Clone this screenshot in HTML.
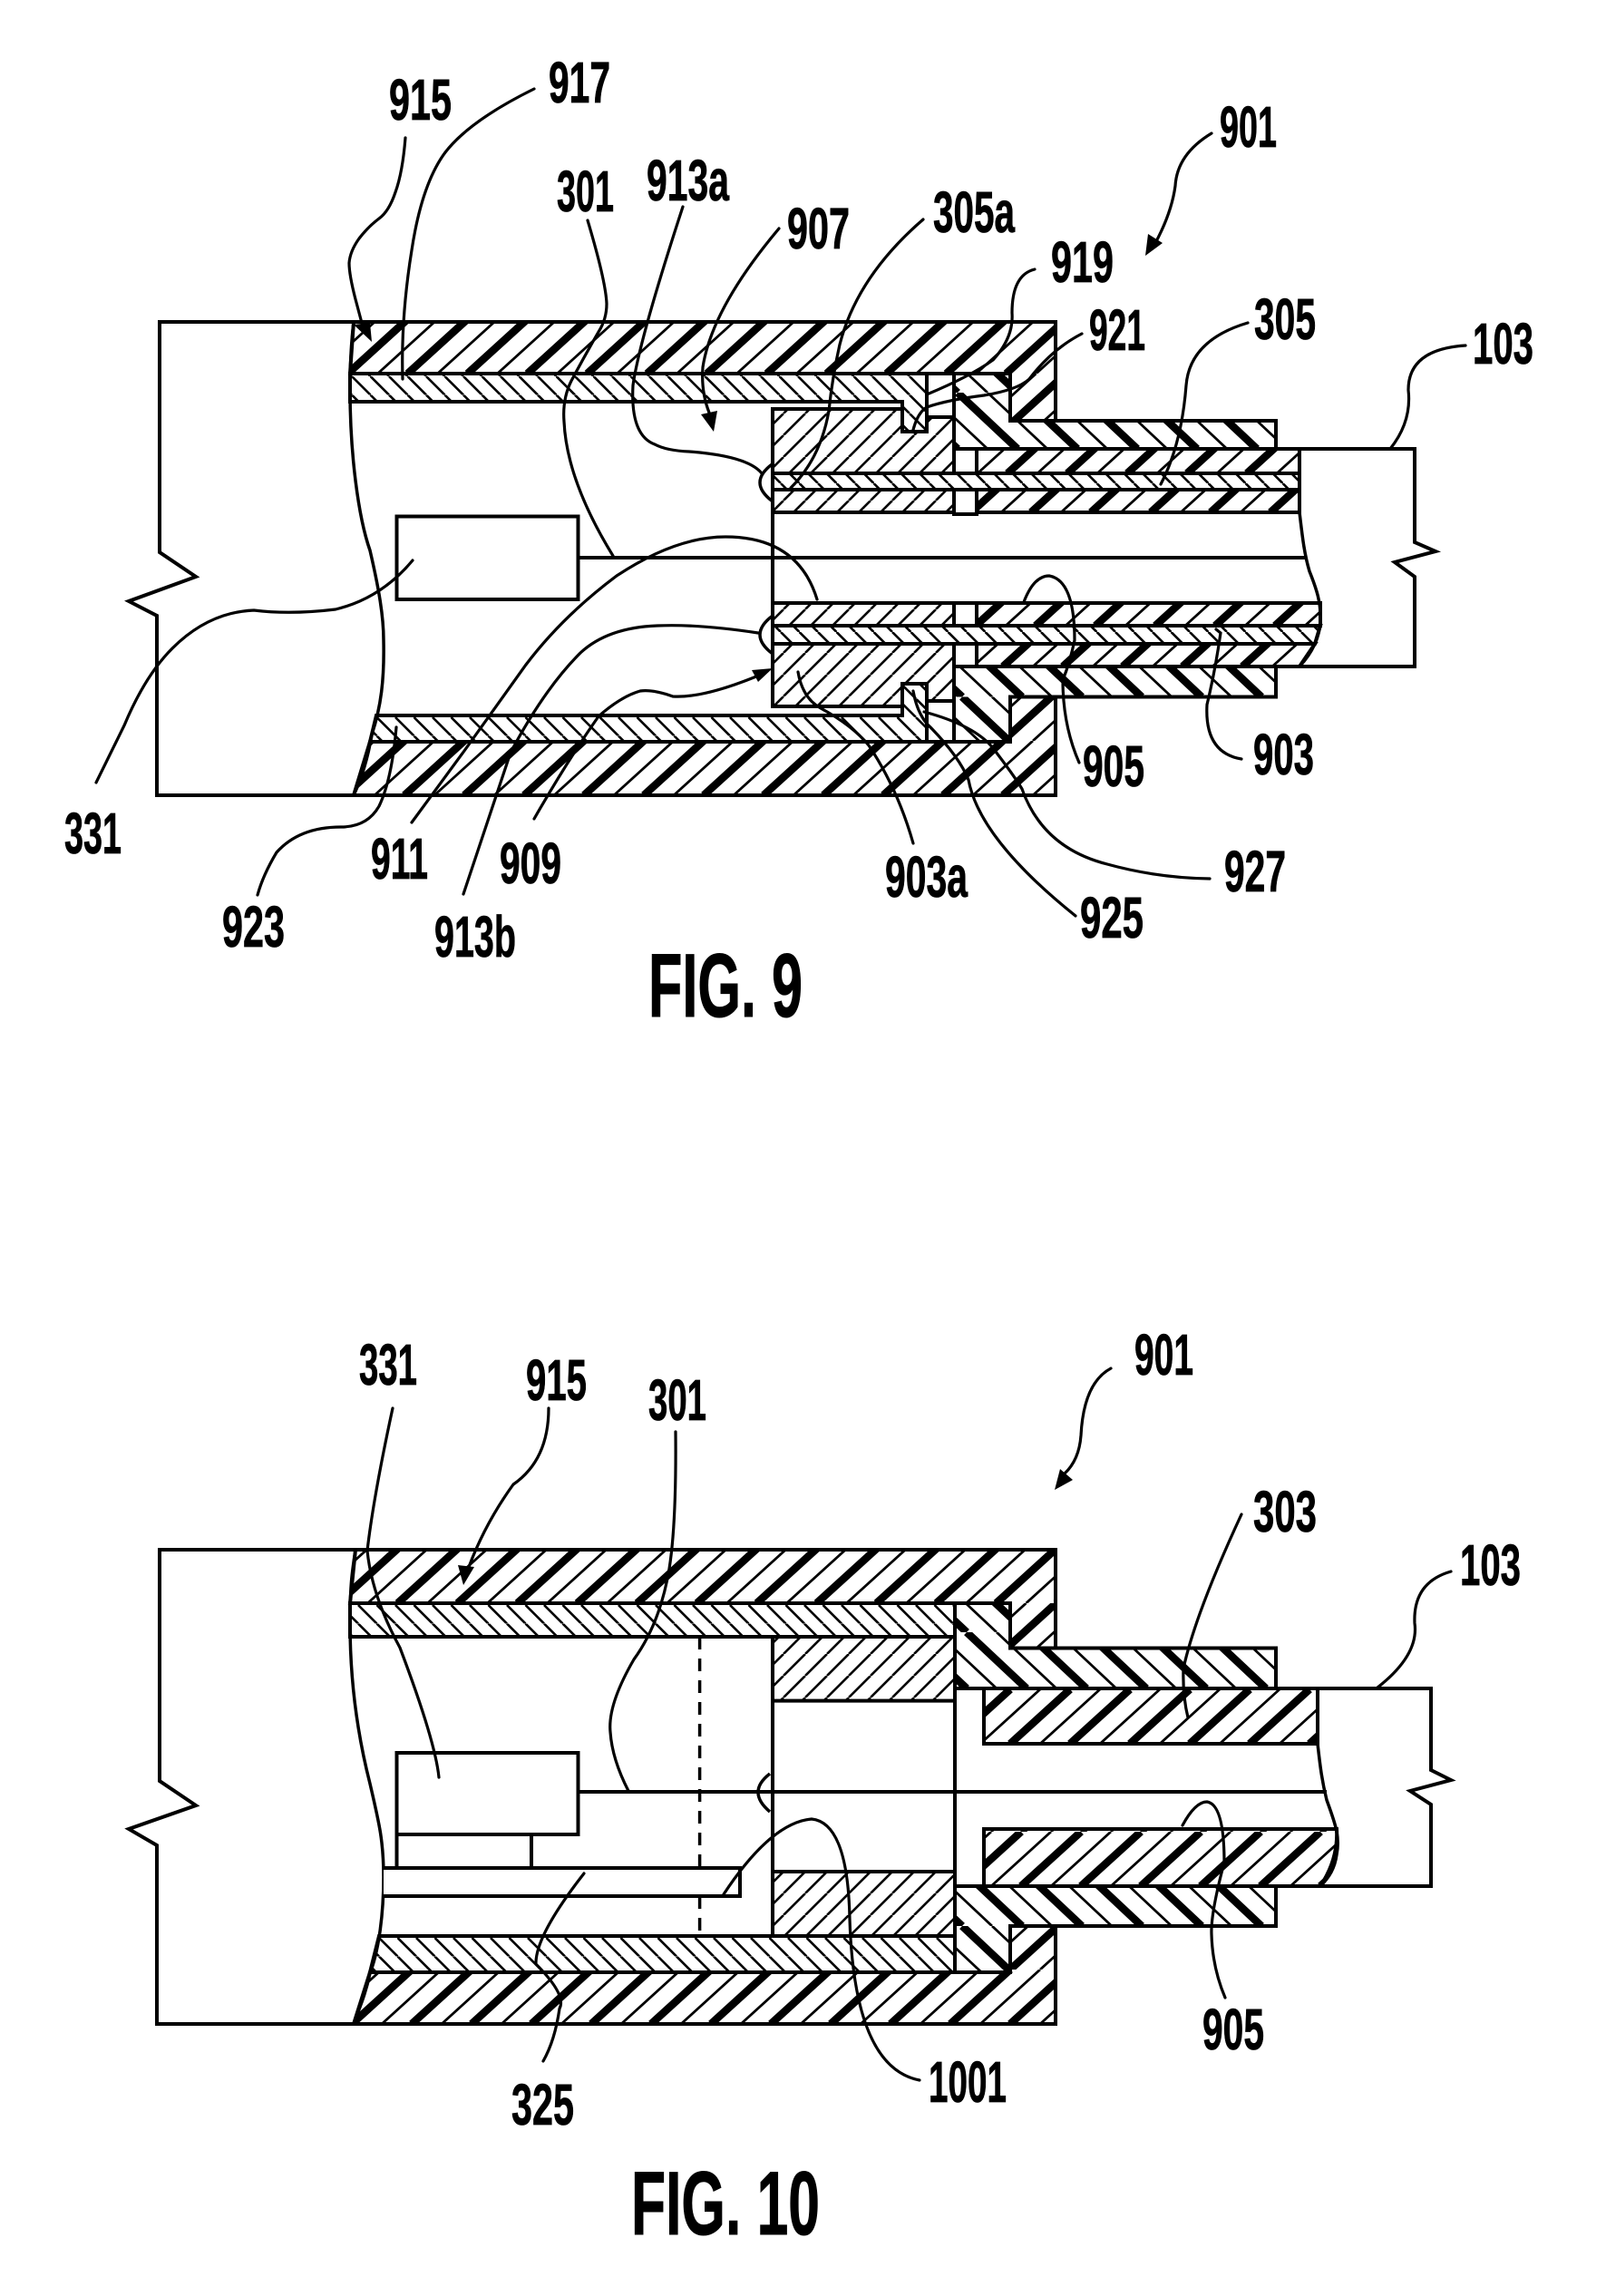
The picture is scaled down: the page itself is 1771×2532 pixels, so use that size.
<!DOCTYPE html>
<html>
<head>
<meta charset="utf-8">
<style>
html,body{margin:0;padding:0;background:#fff;}
svg{display:block;}
text{font-family:"Liberation Sans Narrow","Liberation Sans",sans-serif;font-weight:bold;font-size:64px;fill:#000;stroke:#000;stroke-width:.8px;}
text.fig{font-size:99px;stroke-width:1px;}
</style>
</head>
<body>
<svg xmlns="http://www.w3.org/2000/svg" width="1771" height="2532" viewBox="0 0 1771 2532">
<defs>
<pattern id="F" patternUnits="userSpaceOnUse" width="66" height="60">
<g stroke="#000" fill="none"><path stroke-width="8.5" d="M0,60L66,0M-66,60L0,0M66,60L132,0"/><path stroke-width="2.8" d="M33,60L99,0M-33,60L33,0"/></g>
</pattern>
<pattern id="B" patternUnits="userSpaceOnUse" width="66" height="62">
<g stroke="#000" fill="none"><path stroke-width="8.5" d="M0,0L66,62M-66,0L0,62M66,0L132,62"/><path stroke-width="2.8" d="M33,0L99,62M-33,0L33,62"/></g>
</pattern>
<pattern id="L" patternUnits="userSpaceOnUse" width="20.5" height="20.5">
<path stroke="#000" stroke-width="2.6" fill="none" d="M0,0L20.5,20.5M-20.5,0L0,20.5M20.5,0L41,20.5"/>
</pattern>
<pattern id="S" patternUnits="userSpaceOnUse" width="24" height="24">
<path stroke="#000" stroke-width="2.6" fill="none" d="M0,24L24,0M-24,24L0,0M24,24L48,0"/>
</pattern>
<pattern id="f1" href="#F" x="449.5" y="352"/>
<pattern id="f2" href="#F" x="446" y="817"/>
<pattern id="f3" href="#F" x="1111" y="462"/>
<pattern id="f4" href="#F" x="1137" y="505"/>
<pattern id="f5" href="#F" x="1142" y="630"/>
<pattern id="f6" href="#F" x="1172" y="675"/>
<pattern id="f7" href="#F" x="438.5" y="1708"/>
<pattern id="f8" href="#F" x="454" y="2172"/>
<pattern id="f9" href="#F" x="1180" y="1863"/>
<pattern id="f10" href="#F" x="1126" y="2020"/>
<pattern id="b1" href="#B" x="1122" y="433"/>
<pattern id="b2" href="#B" x="1127" y="706.5"/>
<pattern id="b3" href="#B" x="1132" y="1800"/>
<pattern id="b4" href="#B" x="1127" y="2062"/>
<pattern id="l1" href="#L" x="449.5" y="415"/>
<pattern id="l2" href="#L" x="518" y="791"/>
<pattern id="l3" href="#L" x="436" y="1770"/>
<pattern id="l4" href="#L" x="459" y="2137"/>
</defs>
<rect width="1771" height="2532" fill="#fff"/>

<!-- FIG 9 -->
<g stroke="#000" stroke-width="4" stroke-linejoin="miter">
<path fill="none" d="M390,355L176,355L176,609L216,636L142,663L173,679L173,877L390,877"/>
<!-- sleeve -->
<path fill="url(#f1)" d="M390,355L1164,355L1164,464L1114,464L1114,412L386,412Z"/>
<path fill="url(#f2)" d="M408,818L1114,818L1114,768.5L1164,768.5L1164,877L390,877Z"/>
<!-- bands -->
<path fill="url(#l1)" d="M386,412L1022,412L1022,476L995,476L995,443L386,443Z"/>
<path fill="url(#l2)" d="M415,789L995,789L995,754L1022,754L1022,818L408,818Z"/>
<!-- collars -->
<path fill="url(#b1)" d="M1052,412L1114,412L1114,464L1407,464L1407,495L1052,495Z"/>
<path fill="url(#b2)" d="M1052,735L1407,735L1407,768.5L1114,768.5L1114,818L1052,818Z"/>
<!-- white squares -->
<rect x="1022" y="412" width="30" height="48" fill="#fff"/>
<rect x="1022" y="773" width="30" height="45" fill="#fff"/>
<!-- blocks -->
<path fill="url(#S)" d="M852,451L995,451L995,476L1022,476L1022,460L1052,460L1052,522L852,522Z"/>
<rect x="852" y="540" width="200" height="25" fill="url(#S)"/>
<rect x="852" y="665" width="200" height="25" fill="url(#S)"/>
<path fill="url(#S)" d="M852,710L1052,710L1052,773L1022,773L1022,754L995,754L995,779L852,779Z"/>
<!-- slots -->
<rect x="1052" y="495" width="25" height="27" fill="#fff"/>
<rect x="1052" y="540" width="25" height="27" fill="#fff"/>
<rect x="1052" y="665" width="25" height="25" fill="#fff"/>
<rect x="1052" y="710" width="25" height="25" fill="#fff"/>
<!-- tubes -->
<rect x="1077" y="495" width="356" height="27" fill="url(#f3)"/>
<rect x="1077" y="540" width="356" height="25" fill="url(#f4)"/>
<path fill="url(#f5)" d="M1077,665L1456,665L1456,690L1077,690Z"/>
<path fill="url(#f6)" d="M1077,710L1450,710L1433,735L1077,735Z"/>
<!-- middle bands -->
<rect x="852" y="522" width="581" height="18" fill="url(#L)"/>
<path fill="url(#L)" d="M852,690L1456,690L1450,710L852,710Z"/>
<!-- right -->
<path fill="none" d="M1407,495L1560,495L1560,598L1583,608L1538,620L1560,636L1560,735L1407,735"/>
<path fill="none" stroke-width="3.5" d="M1433,495L1433,565C1436,590 1438,610 1444,630C1452,650 1457,665 1456,685C1455,705 1445,722 1433,735"/>
<!-- left curve -->
<path fill="none" stroke-width="3.5" d="M390,355C387,380 386,400 386,430C386,500 395,570 408,607C418,650 423,680 423,706C424,750 420,780 410,810C405,840 398,860 390,877"/>
<!-- misc -->
<path fill="none" d="M852,451L852,779"/>
<rect x="437.5" y="569.5" width="200" height="91.5" fill="#fff"/>
<path fill="none" d="M637,615L1440,615"/>
<path fill="none" stroke-width="3.5" d="M852,511.5Q824,532 852,553M852,679Q824,700 852,721"/>
</g>

<!-- FIG 9 leaders -->
<g fill="none" stroke="#000" stroke-width="3.2" stroke-linecap="round">
<path d="M447,152Q444,190 436,212Q429,233 418,241Q406,250 396,263Q386,277 385,290Q385,303 392,330L400,360"/>
<path d="M589,98Q518,133 491,168Q465,203 454,276Q442,350 444,418"/>
<path d="M648,243Q668,310 669,335Q669,352 660,366Q645,392 630,420Q620,440 622,465Q625,530 676,613"/>
<path d="M753,228Q705,375 698,425Q695,480 722,490Q735,497 760,498Q825,503 840,522"/>
<path d="M859,252Q785,340 775,405Q773,432 782,455"/>
<path d="M1018,242Q945,305 926,380Q918,415 914,453Q905,505 872,538"/>
<path d="M1141,297Q1116,303 1116,345Q1118,372 1095,397Q1070,415 1022,435"/>
<path d="M1193,368Q1160,385 1135,418Q1122,430 1085,436Q1045,441 1022,449Q1012,455 1007,474"/>
<path d="M1376,356Q1312,375 1308,425Q1303,490 1280,534"/>
<path d="M1616,381Q1553,385 1553,430Q1557,465 1533,495"/>
<path d="M1336,147Q1298,170 1296,205Q1292,235 1273,270"/>
<path d="M455,618Q420,660 370,672Q320,678 280,673Q230,675 190,715Q160,745 137,800L106,863"/>
<path d="M437,802Q432,860 418,889Q405,912 376,912Q330,912 305,940Q290,965 284,987"/>
<path d="M901,661Q880,592 800,592Q745,592 680,635Q620,680 580,733L512,828L454,907"/>
<path d="M836,698Q770,688 725,690Q670,692 640,720Q600,760 563,830L511,986"/>
<path d="M834,746Q775,770 742,768Q720,760 706,762Q685,768 660,790Q625,840 589,903"/>
<path d="M880,741Q885,770 905,781Q940,800 958,822Q990,870 1007,930"/>
<path d="M1007,762Q1012,790 1027,803Q1058,835 1068,860Q1080,925 1186,1010"/>
<path d="M1019,785Q1075,800 1095,825Q1118,855 1127,870Q1150,935 1221,953Q1275,968 1334,969"/>
<path d="M1129,664Q1140,635 1157,635Q1185,640 1185,706Q1180,730 1172,750Q1172,800 1190,841"/>
<path d="M1341,694L1346,698Q1340,740 1331,777Q1328,830 1369,837"/>
</g>
<g fill="#000">
<polygon points="390,358 410,377 408,356"/>
<polygon points="787,476 773,457 791,453"/>
<polygon points="1263,282 1266,258 1282,268"/>
<polygon points="852,737 829,739 836,752"/>
</g>

<!-- FIG 10 -->
<g stroke="#000" stroke-width="4" stroke-linejoin="miter">
<path fill="none" d="M392,1709L176,1709L176,1964L216,1991L142,2017L173,2035L173,2232L390,2232"/>
<path fill="url(#f7)" d="M392,1709L1164,1709L1164,1817.5L1114,1817.5L1114,1768L386,1768Z"/>
<path fill="url(#f8)" d="M408,2175L1114,2175L1114,2124L1164,2124L1164,2232L390,2232Z"/>
<path fill="url(#l3)" d="M386,1768L1053,1768L1053,1805L386,1805Z"/>
<path fill="url(#l4)" d="M418,2135L1053,2135L1053,2175L408,2175Z"/>
<path fill="url(#b3)" d="M1053,1768L1114,1768L1114,1817.5L1407,1817.5L1407,1862L1053,1862Z"/>
<path fill="url(#b4)" d="M1053,2080L1407,2080L1407,2124L1114,2124L1114,2175L1053,2175Z"/>
<rect x="852" y="1805" width="201" height="70.6" fill="url(#S)"/>
<rect x="852" y="2064" width="201" height="71" fill="url(#S)"/>
<path fill="none" d="M852,1875L852,2064M1053,1862L1053,2080"/>
<rect x="1085" y="1862" width="368" height="61" fill="url(#f9)"/>
<path fill="url(#f10)" d="M1085,2017L1474,2017Q1476,2050 1456,2080L1085,2080Z"/>
<path fill="none" d="M1407,1862L1578,1862L1578,1952L1600,1963L1555,1975L1578,1990L1578,2080L1407,2080"/>
<path fill="none" stroke-width="3.5" d="M1453,1862L1453,1923C1456,1950 1458,1965 1463,1985C1472,2010 1478,2025 1474,2045C1472,2060 1466,2070 1456,2080"/>
<path fill="none" stroke-width="3.5" d="M392,1709C388,1735 386,1750 386,1790C386,1860 396,1920 408,1967C418,2010 423,2030 423,2070C423,2110 418,2150 408,2176C403,2200 396,2215 390,2232"/>
<path fill="none" stroke-width="3.5" stroke-dasharray="14 10" d="M771.6,1805L771.6,2060M771.6,2091L771.6,2135"/>
<path fill="none" d="M637,1976L1463,1976"/>
<rect x="437.5" y="1933" width="200" height="90" fill="#fff"/>
<path fill="none" d="M437.5,2023L437.5,2060M586,2023L586,2060"/>
<path fill="#fff" stroke="none" d="M423,2060L816,2060L816,2091L423,2091Z"/>
<path fill="none" d="M423,2060L816,2060L816,2091L423,2091"/>
<path fill="none" stroke-width="3.5" d="M849,1956Q823,1976 849,1998"/>
</g>

<!-- FIG 10 leaders -->
<g fill="none" stroke="#000" stroke-width="3.2" stroke-linecap="round">
<path d="M433,1553Q412,1650 405,1710Q410,1760 441,1817Q480,1920 484,1960"/>
<path d="M605,1553Q605,1610 566,1637Q535,1680 517,1728"/>
<path d="M745,1579Q746,1680 738,1730Q728,1790 699,1830Q670,1880 673,1910Q675,1940 693,1975"/>
<path d="M1225,1509Q1195,1525 1192,1583Q1190,1610 1174,1625"/>
<path d="M1369,1670Q1318,1780 1305,1840Q1304,1870 1310,1894"/>
<path d="M1600,1733Q1558,1745 1560,1790Q1565,1825 1519,1861"/>
<path d="M1304,2013Q1318,1987 1331,1987Q1350,1990 1350,2054Q1335,2110 1336,2133Q1337,2170 1351,2203"/>
<path d="M798,2089Q850,2010 895,2006Q935,2010 937,2116Q942,2280 1014,2294"/>
<path d="M644,2066Q590,2135 591,2166Q625,2200 617,2215Q612,2250 599,2273"/>
</g>
<g fill="#000">
<polygon points="511,1748 505,1726 523,1728"/>
<polygon points="1163,1643 1169,1620 1183,1632"/>
</g>

<!-- labels -->
<g>
<text x="429" y="132" textLength="69" lengthAdjust="spacingAndGlyphs">915</text>
<text x="605" y="113" textLength="68" lengthAdjust="spacingAndGlyphs">917</text>
<text x="614" y="233" textLength="63" lengthAdjust="spacingAndGlyphs">301</text>
<text x="713" y="221" textLength="91" lengthAdjust="spacingAndGlyphs">913a</text>
<text x="868" y="274" textLength="69" lengthAdjust="spacingAndGlyphs">907</text>
<text x="1029" y="256" textLength="90" lengthAdjust="spacingAndGlyphs">305a</text>
<text x="1345" y="162" textLength="63" lengthAdjust="spacingAndGlyphs">901</text>
<text x="1159" y="311" textLength="69" lengthAdjust="spacingAndGlyphs">919</text>
<text x="1201" y="386" textLength="62" lengthAdjust="spacingAndGlyphs">921</text>
<text x="1383" y="374" textLength="68" lengthAdjust="spacingAndGlyphs">305</text>
<text x="1624" y="401" textLength="67" lengthAdjust="spacingAndGlyphs">103</text>
<text x="71" y="941" textLength="63" lengthAdjust="spacingAndGlyphs">331</text>
<text x="245" y="1044" textLength="69" lengthAdjust="spacingAndGlyphs">923</text>
<text x="409" y="969" textLength="63" lengthAdjust="spacingAndGlyphs">911</text>
<text x="479" y="1055" textLength="90" lengthAdjust="spacingAndGlyphs">913b</text>
<text x="551" y="974" textLength="68" lengthAdjust="spacingAndGlyphs">909</text>
<text x="976" y="989" textLength="91" lengthAdjust="spacingAndGlyphs">903a</text>
<text x="1191" y="1034" textLength="70" lengthAdjust="spacingAndGlyphs">925</text>
<text x="1350" y="983" textLength="68" lengthAdjust="spacingAndGlyphs">927</text>
<text x="1194" y="867" textLength="68" lengthAdjust="spacingAndGlyphs">905</text>
<text x="1382" y="854" textLength="67" lengthAdjust="spacingAndGlyphs">903</text>
<text class="fig" x="715" y="1121" textLength="170" lengthAdjust="spacingAndGlyphs">FIG. 9</text>

<text x="396" y="1527" textLength="64" lengthAdjust="spacingAndGlyphs">331</text>
<text x="580" y="1544" textLength="67" lengthAdjust="spacingAndGlyphs">915</text>
<text x="715" y="1566" textLength="64" lengthAdjust="spacingAndGlyphs">301</text>
<text x="1251" y="1516" textLength="65" lengthAdjust="spacingAndGlyphs">901</text>
<text x="1382" y="1689" textLength="70" lengthAdjust="spacingAndGlyphs">303</text>
<text x="1610" y="1748" textLength="67" lengthAdjust="spacingAndGlyphs">103</text>
<text x="1326" y="2260" textLength="68" lengthAdjust="spacingAndGlyphs">905</text>
<text x="564" y="2343" textLength="69" lengthAdjust="spacingAndGlyphs">325</text>
<text x="1024" y="2318" textLength="86" lengthAdjust="spacingAndGlyphs">1001</text>
<text class="fig" x="696" y="2464" textLength="208" lengthAdjust="spacingAndGlyphs">FIG. 10</text>
</g>
</svg>
</body>
</html>
